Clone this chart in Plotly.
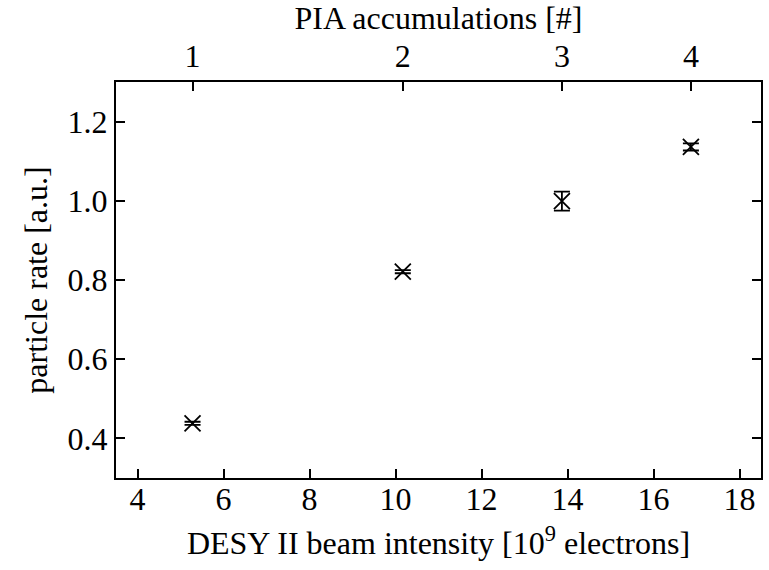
import plotly.graph_objects as go

# Beam intensity [10^9 electrons] and measured particle rate
intensity = [5.28, 10.17, 13.87, 16.87]
rate = [0.438, 0.821, 0.999, 1.136]
rate_err = [0.004, 0.004, 0.024, 0.009]
pia_labels = ["1", "2", "3", "4"]

FONT = "Liberation Serif"
SIZE = 32

fig = go.Figure()
fig.add_trace(go.Scatter(
    x=intensity, y=rate,
    mode="markers",
    marker=dict(symbol="x-thin-open", size=16, color="black",
                line=dict(width=1.8, color="black")),
    error_y=dict(type="data", array=rate_err, visible=True,
                 color="black", thickness=1.8, width=8),
    showlegend=False,
))
# invisible trace so the top axis is drawn
fig.add_trace(go.Scatter(
    x=intensity, y=rate, xaxis="x2", mode="markers",
    marker=dict(opacity=0), showlegend=False, hoverinfo="skip",
))

axis_common = dict(
    showline=True, linecolor="black", linewidth=2.4,
    ticks="inside", ticklen=9, tickwidth=1.6, tickcolor="black",
    showgrid=False, zeroline=False,
    tickfont=dict(family=FONT, size=SIZE, color="black"),
)

fig.update_layout(
    width=769, height=570,
    margin=dict(l=116, r=6, t=82, b=92),
    plot_bgcolor="white", paper_bgcolor="white",
    font=dict(family=FONT, color="black"),
    xaxis=dict(
        **axis_common, range=[3.5, 18.5], dtick=2, tick0=4,
        ticklabelstandoff=-9,
        title=dict(text="DESY II beam intensity [10<sup>9</sup> electrons]",
                   font=dict(family=FONT, size=SIZE), standoff=16),
    ),
    xaxis2=dict(
        **axis_common, range=[3.5, 18.5], overlaying="x", side="top",
        tickmode="array", tickvals=intensity, ticktext=pia_labels,
        title=dict(text="PIA accumulations [#]",
                   font=dict(family=FONT, size=SIZE), standoff=6),
    ),
    yaxis=dict(
        **axis_common, range=[0.3, 1.3], dtick=0.2, tick0=0.4,
        tickformat=".1f", mirror="ticks",
        title=dict(text="particle rate [a.u.]",
                   font=dict(family=FONT, size=SIZE), standoff=10),
    ),
)

fig.write_html("out.html")
